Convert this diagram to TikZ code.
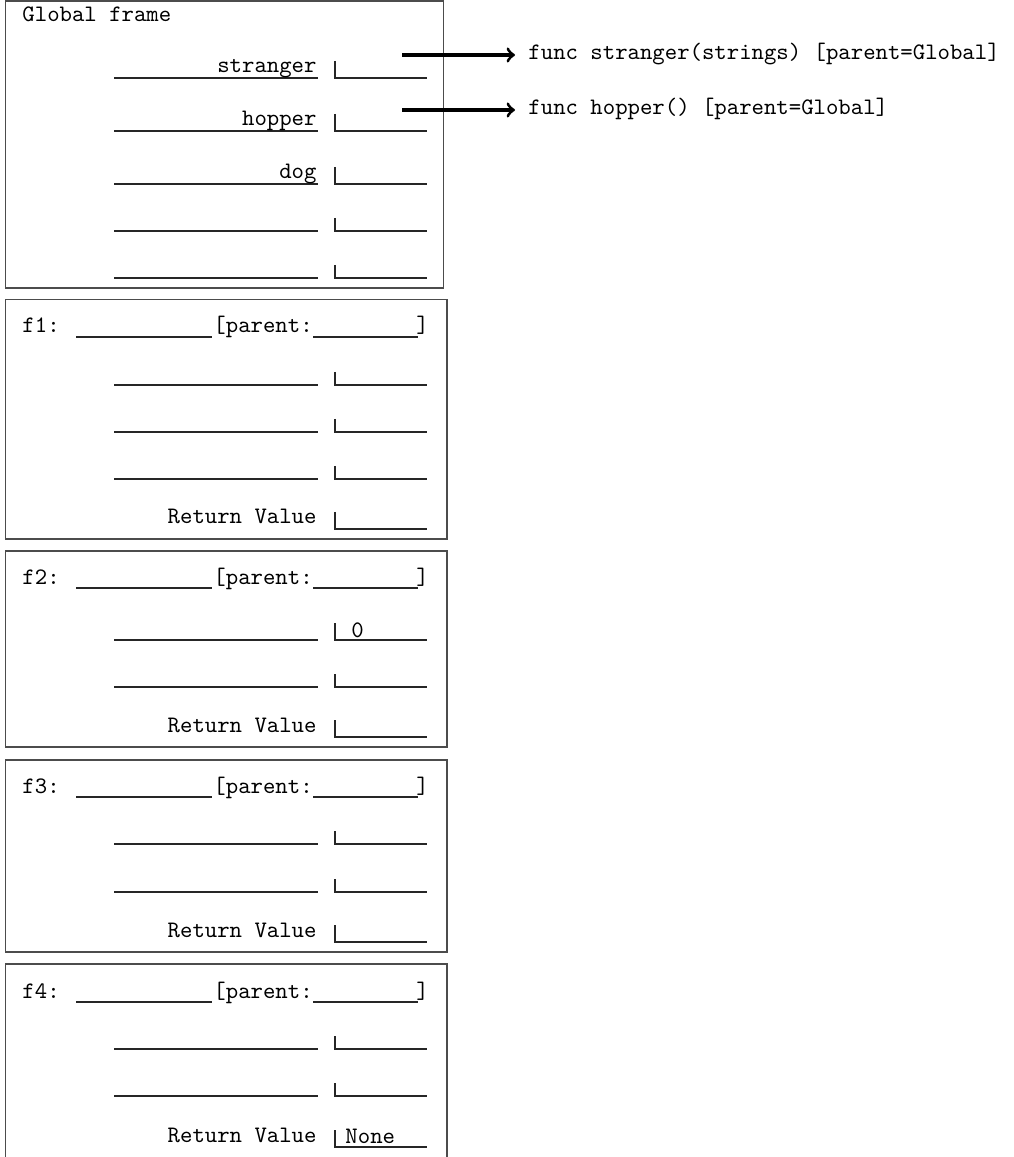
\documentclass[tikz,border=0pt]{standalone}
\begin{document}
\begin{tikzpicture}[x=0.4234pt,y=-0.4234pt,
  framebox/.style={draw=black!70,line width=0.6pt},
  blank/.style={draw=black!85,line width=0.5pt},
  txt/.style={font=\ttfamily,inner sep=0pt},
  ptr/.style={->,line width=1.3pt,black}]
\useasboundingbox (0,0) rectangle (1013,1157);
\newcommand\myval[2][13]{%
  \draw[blank] (335,#2-#1) -- (335,#2) -- (427,#2);}
\newcommand\myrow[2][13]{%
  \draw[blank] (114,#2) -- (318,#2);
  \myval[#1]{#2}}
\newcommand\myhead[3]{% #1 id, #2 line y, #3 label
  \node[txt,anchor=base west] (#1t) at (22,#2-4) {#3};
  \draw[blank] (76,#2) -- (212,#2);
  \node[txt,anchor=base west] (#1p) at (213,#2-4) {[parent:};
  \draw[blank] (313,#2) -- (418,#2);
  \node[txt,anchor=base west] (#1b) at (416,#2-4) {]};}
% Global frame
\draw[framebox] (5.5,1) rectangle (443.5,288);
\node[txt,anchor=base west] (gt) at (22,22) {Global frame};
\myrow[17]{78}\myrow[17]{131}\myrow[17]{184}\myrow{231}\myrow{278}
\node[txt,anchor=base east] (gn1) at (317,73) {stranger};
\node[txt,anchor=base east] (gn2) at (317,126) {hopper};
\node[txt,anchor=base east] (gn3) at (317,179) {dog};
% function objects
\node[txt,anchor=base west] (fs) at (528,60) {func stranger(strings) [parent=Global]};
\node[txt,anchor=base west] (fh) at (528,115) {func hopper() [parent=Global]};
\coordinate (vs) at (402,55);
\coordinate (vh) at (402,110);
\draw[ptr] (vs) -- (vs -| 515,0);
\draw[ptr] (vh) -- (vh -| 515,0);
% f1
\draw[framebox] (5.5,299.5) rectangle (447,539);
\myhead{f1}{337}{f1:}
\myrow{385}\myrow{432}\myrow{479}\myval[17]{529}
\node[txt,anchor=base east] (f1r) at (317,524) {Return Value};
% f2
\draw[framebox] (5.5,551) rectangle (447,747);
\myhead{f2}{588}{f2:}
\myrow[17]{640}\myrow{687}\myval[17]{737}
\node[txt,anchor=base west] (f2v) at (351,637) {0};
\node[txt,anchor=base east] (f2r) at (317,732) {Return Value};
% f3
\draw[framebox] (5.5,760) rectangle (447,952);
\myhead{f3}{797}{f3:}
\myrow{844}\myrow{892}\myval[17]{942}
\node[txt,anchor=base east] (f3r) at (317,937) {Return Value};
% f4
\draw[framebox] (5.5,1157) -- (5.5,964) -- (447,964) -- (447,1157);
\myhead{f4}{1002}{f4:}
\myrow{1049}\myrow{1096}\myval[17]{1147}
\node[txt,anchor=base east] (f4r) at (317,1142) {Return Value};
\node[txt,anchor=base west] (f4v) at (345,1143) {None};
\end{tikzpicture}
\end{document}
